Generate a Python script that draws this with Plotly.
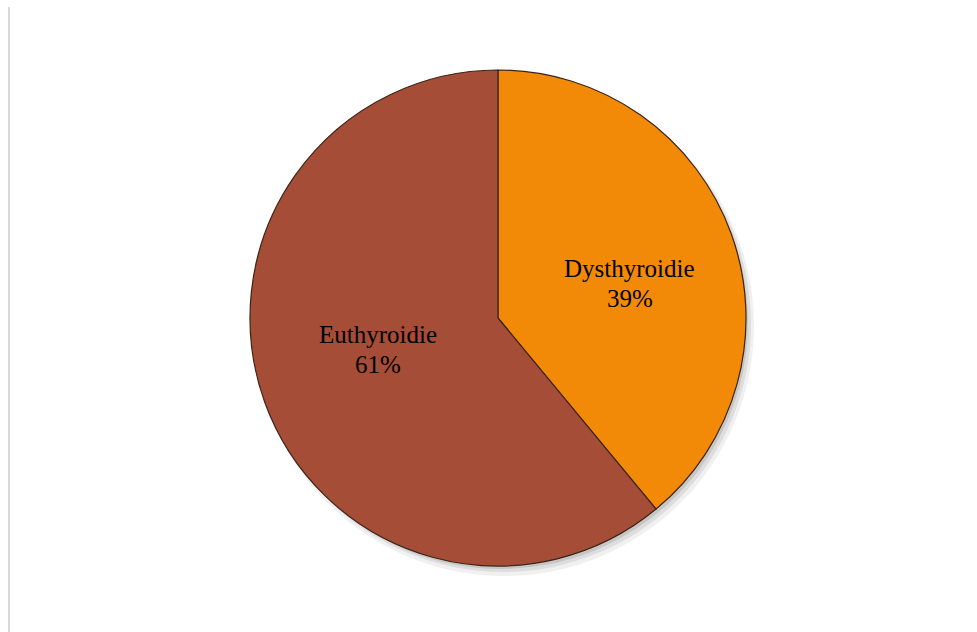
import math
import plotly.graph_objects as go

labels = ["Dysthyroidie", "Euthyroidie"]
values = [39, 61]
colors = ["#F28A07", "#A54D36"]
label_radius = [0.55, 0.50]

W, H = 977, 632
cx, cy, R = 498, 318, 248

def dom(dx, dy, r):
    return dict(x=[(cx - r + dx) / W, (cx + r + dx) / W],
                y=[1 - (cy + r + dy) / H, 1 - (cy - r + dy) / H])

fig = go.Figure()
# soft shadow layers
for dx, dy, r, a in [(6, 8, R + 2, 0.06), (5, 6, R, 0.08), (3, 4, R - 1, 0.10)]:
    fig.add_trace(go.Pie(values=[1], marker=dict(colors=[f"rgba(0,0,0,{a})"], line=dict(width=0)),
                         domain=dom(dx, dy, r), textinfo="none", hoverinfo="skip",
                         showlegend=False, sort=False))
fig.add_trace(go.Pie(labels=labels, values=values, sort=False, direction="clockwise", rotation=0,
                     marker=dict(colors=colors, line=dict(color="#3b2415", width=1.2)),
                     domain=dom(0, 0, R), textinfo="none", showlegend=False))

total = sum(values)
cum = 0
annotations = []
font = dict(family="Liberation Serif", size=25, color="#000000")
for lab, v, rf in zip(labels, values, label_radius):
    mid = (cum + v / 2) / total * 2 * math.pi + math.radians(5)
    cum += v
    px = cx + rf * R * math.sin(mid)
    py = cy - rf * R * math.cos(mid)
    for dy, t in [(-15, lab), (15, f"{round(v / total * 100)}%")]:
        annotations.append(dict(x=px / W, y=1 - (py + dy) / H, xref="paper", yref="paper",
                                text=t, showarrow=False, font=font, align="center",
                                xanchor="center", yanchor="middle"))

fig.update_layout(width=W, height=H, margin=dict(l=0, r=0, t=0, b=0),
                  paper_bgcolor="white", plot_bgcolor="white", annotations=annotations,
                  shapes=[dict(type="line", xref="paper", yref="paper", x0=9 / W, x1=9 / W,
                               y0=0, y1=1 - 7 / H, line=dict(color="#d9d9d9", width=2))])
fig.write_html("out.html")
